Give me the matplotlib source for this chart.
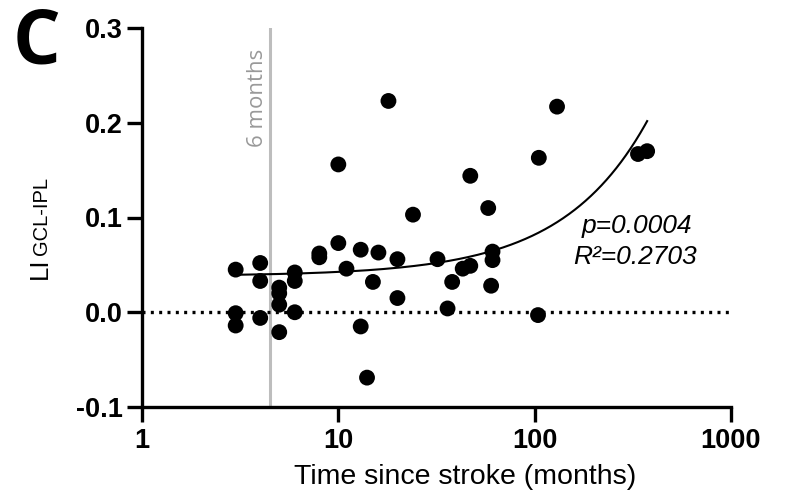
import numpy as np
import matplotlib
matplotlib.use("Agg")
import matplotlib.pyplot as plt

# months since stroke and LI (GCL-IPL)
months = [3, 3, 3, 4, 4, 4, 5, 5, 5, 5, 6, 6, 6, 8, 8, 10, 10, 11, 13, 13, 14,
          15, 16, 18, 20, 20, 24, 32, 36, 38, 43, 47, 47, 58, 60, 61, 61,
          104, 105, 130, 336, 374]
li_gcl_ipl = [0.045, -0.001, -0.014, 0.052, 0.033, -0.006, 0.026, 0.020, 0.008,
              -0.021, 0.042, 0.033, 0.000, 0.062, 0.058, 0.073, 0.156, 0.046,
              0.066, -0.015, -0.069, 0.032, 0.063, 0.223, 0.056, 0.015, 0.103,
              0.056, 0.004, 0.032, 0.046, 0.144, 0.049, 0.110, 0.028, 0.064,
              0.055, -0.003, 0.163, 0.217, 0.167, 0.170]

six_months_line = 4.5
x_ticks = [1, 10, 100, 1000]
y_ticks = [-0.1, 0.0, 0.1, 0.2, 0.3]
stats_lines = ["p=0.0004", "R\u00b2=0.2703"]

W, H = 790, 495
fig = plt.figure(figsize=(W / 100, H / 100), dpi=100)
ax = fig.add_axes([142 / W, 1 - 407 / H, (731 - 142) / W, (407 - 28) / H])

def fx(px):
    return px / W

def fy(py):
    return 1 - py / H

x = np.array(months, dtype=float)
y = np.array(li_gcl_ipl)

# linear regression, drawn on the log axis
slope, intercept = np.polyfit(x, y, 1)
xs = np.linspace(x.min(), x.max(), 400)

ax.axvline(six_months_line, color="#bdbdbd", lw=2.2, zorder=1)
ax.axhline(0, color="black", lw=2.4, linestyle=(0, (0.9, 1.6)), zorder=1)
ax.plot(xs, intercept + slope * xs, color="black", lw=1.5, zorder=2)
ax.scatter(x, y, s=130, color="black", edgecolors="none", zorder=3)

ax.set_xscale("log")
ax.set_xlim(1, 1000)
ax.set_ylim(-0.1, 0.3)
ax.set_xticks(x_ticks)
ax.set_xticklabels([str(t) for t in x_ticks])
ax.xaxis.set_minor_locator(matplotlib.ticker.NullLocator())
ax.set_yticks(y_ticks)
ax.set_yticklabels([f"{t:.1f}" for t in y_ticks])

for s in ["top", "right"]:
    ax.spines[s].set_visible(False)
for s in ["left", "bottom"]:
    ax.spines[s].set_linewidth(2.4)

ax.tick_params(axis="both", length=11, width=2.4, labelsize=19.5)
ax.tick_params(axis="y", pad=3)
ax.tick_params(axis="x", pad=4)
for lab in ax.get_xticklabels() + ax.get_yticklabels():
    lab.set_fontfamily("Liberation Sans")
    lab.set_fontweight("bold")

# axis titles
fig.text(fx(465), fy(484), "Time since stroke (months)", ha="center",
         va="baseline", fontsize=20.5, family="Liberation Sans")
fig.text(fx(47), fy(279), "LI", rotation=90, rotation_mode="anchor",
         ha="left", va="baseline", fontsize=18.5, family="Liberation Sans")
fig.text(fx(47), fy(255), "GCL-IPL", rotation=90, rotation_mode="anchor",
         ha="left", va="baseline", fontsize=14.5, family="Liberation Sans")

# annotations
fig.text(fx(263), fy(147), "6 months", rotation=90, rotation_mode="anchor",
         ha="left", va="baseline", fontsize=16, family="Open Sans",
         color="#999999")
fig.text(fx(637), fy(233), stats_lines[0], ha="center", va="baseline",
         fontsize=19, style="italic", family="Liberation Sans")
fig.text(fx(635), fy(264), stats_lines[1], ha="center", va="baseline",
         fontsize=19, style="italic", family="Liberation Sans")

fig.text(fx(13), fy(64), "C", ha="left", va="baseline", fontsize=54,
         fontweight="bold", family="Open Sans")

fig.savefig("out.png", dpi=100)
